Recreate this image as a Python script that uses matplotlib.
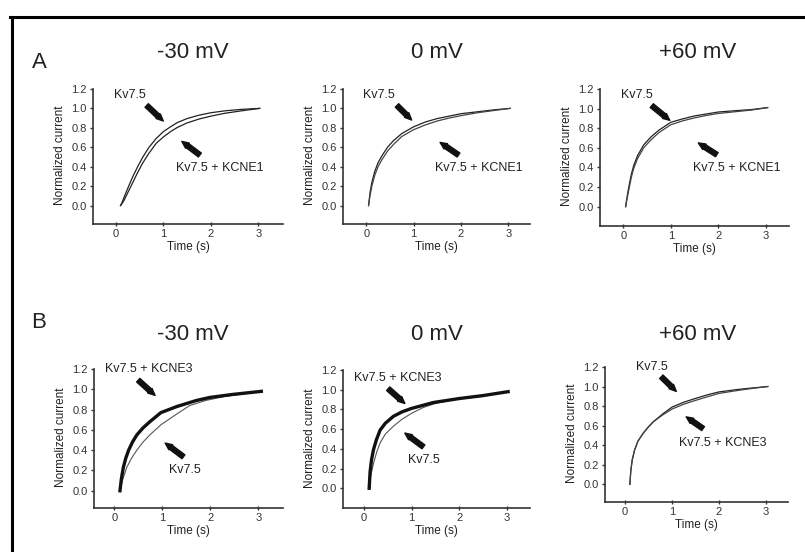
import matplotlib
matplotlib.use("Agg")
import matplotlib.pyplot as plt
from matplotlib.lines import Line2D
import numpy as np

plt.rcParams['font.family'] = ['Liberation Sans', 'DejaVu Sans']

# ---- data (time in s, normalized current) ----
voltages = ["-30 mV", "0 mV", "+60 mV"]

# row A: Kv7.5 vs Kv7.5 + KCNE1
t_a1 = [0.10, 0.13, 0.17, 0.22, 0.28, 0.36, 0.46, 0.57, 0.70, 0.85, 1.00, 1.15, 1.30, 1.50, 1.75, 2.00, 2.30, 2.65, 3.03]
kv_a1 = [0.00, 0.03, 0.08, 0.14, 0.21, 0.30, 0.40, 0.50, 0.60, 0.69, 0.76, 0.81, 0.855, 0.895, 0.93, 0.955, 0.975, 0.99, 1.00]
e1_a1 = [0.00, 0.02, 0.05, 0.10, 0.16, 0.24, 0.34, 0.44, 0.54, 0.64, 0.705, 0.76, 0.805, 0.85, 0.89, 0.92, 0.95, 0.975, 1.00]

t_a2 = [0.05, 0.08, 0.12, 0.18, 0.25, 0.33, 0.45, 0.58, 0.75, 1.00, 1.25, 1.50, 1.75, 2.00, 2.35, 2.70, 3.04]
kv_a2 = [0.00, 0.13, 0.24, 0.35, 0.44, 0.51, 0.60, 0.67, 0.74, 0.81, 0.86, 0.895, 0.92, 0.945, 0.965, 0.985, 1.00]
e1_a2 = [0.00, 0.10, 0.20, 0.31, 0.40, 0.47, 0.56, 0.63, 0.71, 0.78, 0.83, 0.87, 0.90, 0.925, 0.955, 0.978, 1.00]

t_a3 = [0.05, 0.08, 0.12, 0.17, 0.22, 0.30, 0.43, 0.58, 0.75, 1.00, 1.25, 1.50, 1.75, 2.00, 2.40, 2.70, 3.04]
kv_a3 = [0.00, 0.10, 0.21, 0.33, 0.42, 0.52, 0.63, 0.71, 0.78, 0.86, 0.895, 0.925, 0.945, 0.965, 0.98, 0.99, 1.01]
e1_a3 = [0.00, 0.08, 0.18, 0.30, 0.39, 0.49, 0.60, 0.68, 0.755, 0.835, 0.875, 0.905, 0.93, 0.95, 0.97, 0.985, 1.01]

# row B: Kv7.5 vs Kv7.5 + KCNE3
t_b1_e3 = [0.12, 0.15, 0.19, 0.24, 0.30, 0.38, 0.47, 0.60, 0.74, 0.97, 1.30, 1.71, 1.99, 2.47, 3.06]
e3_b1 = [0.00, 0.12, 0.23, 0.32, 0.40, 0.48, 0.55, 0.62, 0.68, 0.77, 0.83, 0.89, 0.92, 0.95, 0.98]
t_b1_kv = [0.12, 0.17, 0.26, 0.36, 0.47, 0.60, 0.74, 0.97, 1.28, 1.57, 1.90, 2.30, 2.70, 3.06]
kv_b1 = [0.00, 0.10, 0.23, 0.32, 0.40, 0.48, 0.55, 0.65, 0.75, 0.84, 0.89, 0.93, 0.955, 0.98]

t_b2_e3 = [0.11, 0.13, 0.16, 0.20, 0.26, 0.34, 0.45, 0.62, 0.80, 1.00, 1.46, 2.00, 2.50, 3.03]
e3_b2 = [0.00, 0.17, 0.29, 0.39, 0.49, 0.59, 0.66, 0.73, 0.775, 0.81, 0.87, 0.91, 0.94, 0.98]
t_b2_kv = [0.11, 0.14, 0.20, 0.27, 0.34, 0.45, 0.62, 0.80, 1.00, 1.25, 1.50, 2.00, 2.50, 3.03]
kv_b2 = [0.00, 0.12, 0.25, 0.37, 0.46, 0.55, 0.63, 0.70, 0.76, 0.82, 0.86, 0.91, 0.94, 0.98]

t_b3 = [0.10, 0.12, 0.15, 0.20, 0.27, 0.38, 0.50, 0.60, 0.80, 1.00, 1.25, 1.51, 1.75, 2.00, 2.40, 2.70, 3.04]
kv_b3 = [0.00, 0.14, 0.25, 0.35, 0.44, 0.52, 0.59, 0.64, 0.72, 0.79, 0.84, 0.88, 0.915, 0.945, 0.97, 0.985, 1.00]
e3_b3 = [0.00, 0.14, 0.25, 0.35, 0.44, 0.52, 0.59, 0.64, 0.71, 0.77, 0.82, 0.86, 0.895, 0.93, 0.96, 0.98, 1.00]

yticks = [0.0, 0.2, 0.4, 0.6, 0.8, 1.0, 1.2]
xticks = [0, 1, 2, 3]

W, H = 805, 552
fig = plt.figure(figsize=(W / 100, H / 100), dpi=100)
fig.patch.set_facecolor('white')


def rect(l, r, t, b):
    return [l / W, 1 - b / H, (r - l) / W, (b - t) / H]


def make_ax(box, xlim, ylim):
    ax = fig.add_axes(rect(*box))
    ax.set_xlim(*xlim)
    ax.set_ylim(*ylim)
    for s in ['top', 'right']:
        ax.spines[s].set_visible(False)
    for s in ['left', 'bottom']:
        ax.spines[s].set_color('#333333')
        ax.spines[s].set_linewidth(1.2)
    ax.spines['left'].set_bounds(ylim[0], 1.2)
    ax.set_yticks(yticks)
    ax.set_yticklabels([f"{v:.1f}" for v in yticks])
    ax.set_xticks(xticks)
    ax.tick_params(axis='both', labelsize=8, colors='#333333', length=2.5, width=1, pad=2)
    ax.tick_params(axis='x', direction='inout', length=3.5)
    ax.set_xlabel("Time (s)", fontsize=8.5, color='#222222', labelpad=1)
    ax.set_ylabel("Normalized current", fontsize=8.5, color='#222222', labelpad=4)
    ax.patch.set_alpha(0)
    return ax


def arrow(ax, tail, head):
    ax.annotate('', xy=head, xytext=tail,
                arrowprops=dict(arrowstyle='simple,head_length=0.5,head_width=0.45,tail_width=0.35',
                                fc='#111111', ec='#111111', mutation_scale=10,
                                shrinkA=0, shrinkB=0))


def label(ax, x, y, s):
    ax.text(x, y, s, fontsize=9, color='#222222', ha='center', va='center')


# ---- row A ----
ax = make_ax((93, 283, 87, 224), (-0.48, 3.52), (-0.19, 1.22))
ax.plot(t_a1, kv_a1, color='#222222', lw=0.9)
ax.plot(t_a1, e1_a1, color='#222222', lw=0.9)
label(ax, 0.29, 1.14, "Kv7.5")
arrow(ax, (0.65, 1.03), (1.0, 0.87))
label(ax, 2.19, 0.39, "Kv7.5 + KCNE1")
arrow(ax, (1.77, 0.52), (1.39, 0.66))

ax = make_ax((343, 530, 87, 224), (-0.49, 3.46), (-0.19, 1.22))
ax.plot(t_a2, kv_a2, color='#222222', lw=0.9)
ax.plot(t_a2, e1_a2, color='#444444', lw=0.9)
label(ax, 0.26, 1.14, "Kv7.5")
arrow(ax, (0.65, 1.03), (0.96, 0.88))
label(ax, 2.37, 0.39, "Kv7.5 + KCNE1")
arrow(ax, (1.95, 0.52), (1.56, 0.65))

ax = make_ax((600, 789, 87, 226), (-0.49, 3.49), (-0.197, 1.22))
ax.plot(t_a3, kv_a3, color='#222222', lw=0.9)
ax.plot(t_a3, e1_a3, color='#444444', lw=0.9)
label(ax, 0.28, 1.14, "Kv7.5")
arrow(ax, (0.60, 1.03), (0.98, 0.88))
label(ax, 2.39, 0.39, "Kv7.5 + KCNE1")
arrow(ax, (1.97, 0.53), (1.58, 0.65))

# ---- row B ----
ax = make_ax((94, 283, 367, 508), (-0.42, 3.51), (-0.17, 1.22))
ax.plot(t_b1_kv, kv_b1, color='#555555', lw=0.8)
ax.plot(t_b1_e3, e3_b1, color='#111111', lw=2.4)
label(ax, 0.71, 1.20, "Kv7.5 + KCNE3")
arrow(ax, (0.50, 1.09), (0.85, 0.94))
label(ax, 1.47, 0.20, "Kv7.5")
arrow(ax, (1.44, 0.335), (1.06, 0.47))

ax = make_ax((343, 530, 368, 508), (-0.44, 3.49), (-0.20, 1.22))
ax.plot(t_b2_kv, kv_b2, color='#555555', lw=0.8)
ax.plot(t_b2_e3, e3_b2, color='#111111', lw=2.4)
label(ax, 0.72, 1.12, "Kv7.5 + KCNE3")
arrow(ax, (0.51, 1.01), (0.86, 0.86))
label(ax, 1.25, 0.29, "Kv7.5")
arrow(ax, (1.25, 0.42), (0.86, 0.56))

ax = make_ax((605, 788, 365, 502), (-0.43, 3.47), (-0.18, 1.22))
ax.plot(t_b3, kv_b3, color='#222222', lw=0.9)
ax.plot(t_b3, e3_b3, color='#444444', lw=0.9)
label(ax, 0.56, 1.20, "Kv7.5")
arrow(ax, (0.77, 1.10), (1.09, 0.95))
label(ax, 2.08, 0.42, "Kv7.5 + KCNE3")
arrow(ax, (1.66, 0.57), (1.30, 0.69))

# ---- titles and panel letters ----
for x, s in zip([193, 437, 698], voltages):
    fig.text(x / W, 1 - 53 / H, s, fontsize=16, color='#222222', ha='center', va='center')
    fig.text(x / W, 1 - 334 / H, s, fontsize=16, color='#222222', ha='center', va='center')
fig.text(39 / W, 1 - 63 / H, "A", fontsize=16, color='#222222', ha='center', va='center')
fig.text(39 / W, 1 - 322 / H, "B", fontsize=16, color='#222222', ha='center', va='center')

# frame (top and left edges)
fig.add_artist(Line2D([10 / W, 1], [1 - 16.5 / H, 1 - 16.5 / H], lw=2.2, color='black',
                      transform=fig.transFigure))
fig.add_artist(Line2D([11.5 / W, 11.5 / W], [0, 1 - 16.5 / H], lw=2.2, color='black',
                      transform=fig.transFigure))

fig.savefig("out.png", dpi=100)
